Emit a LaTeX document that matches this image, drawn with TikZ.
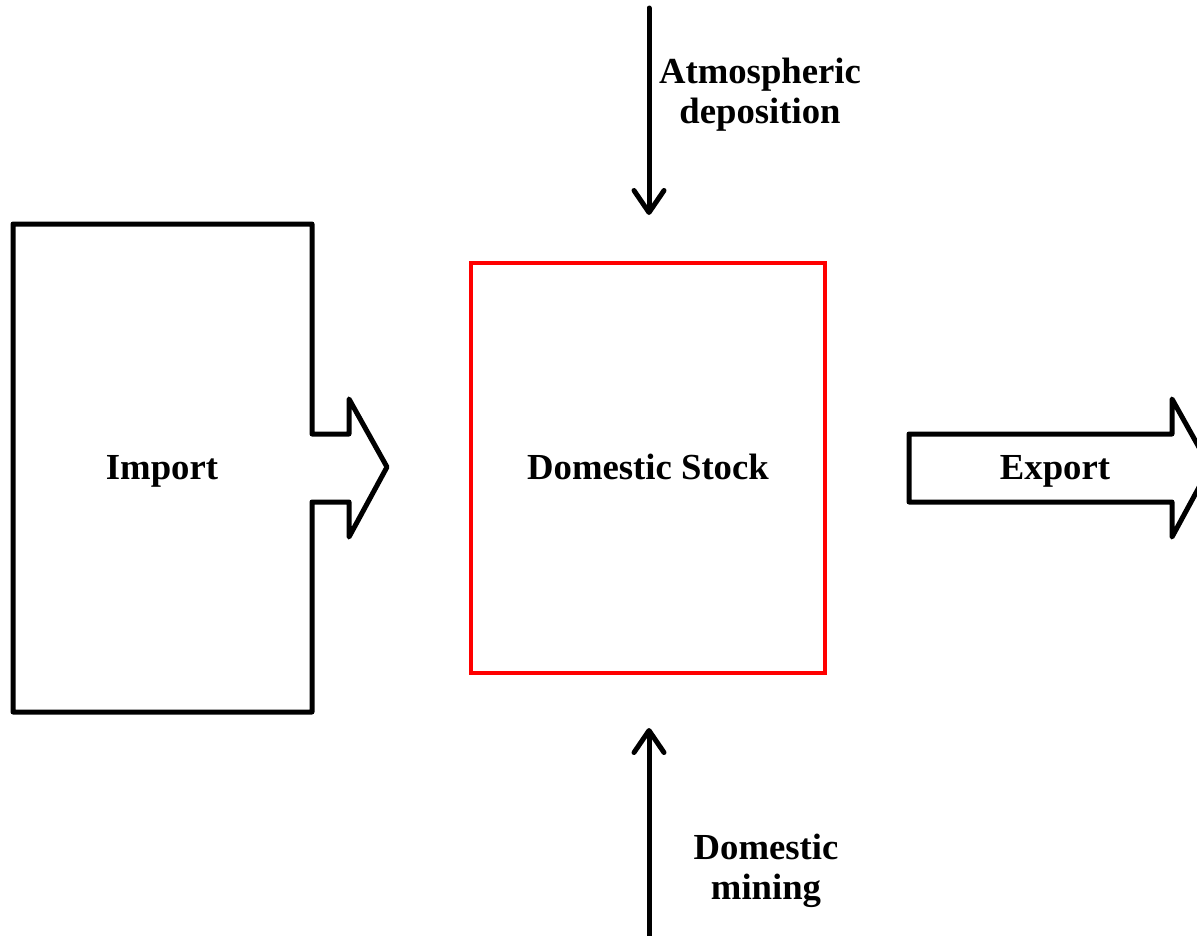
\documentclass[tikz,border=0pt]{standalone}
\usepackage{fontspec}
\setmainfont{Liberation Serif}
\usetikzlibrary{arrows.meta}
\begin{document}
\begin{tikzpicture}[x=1pt,y=-1pt,
  outline/.style={draw=black,line width=5pt,line join=round,line cap=round},
  flow/.style={draw=black,line width=5pt,line cap=round,
    -{Straight Barb[length=22pt,width=30pt,round]}},
  label/.style={font=\fontsize{36.7}{40}\selectfont\bfseries,inner sep=0pt,align=center}]
  \clip (0,0) rectangle (1197,935);
  \useasboundingbox (0,0) rectangle (1197,935);

  % import block with arrow-shaped outlet
  \draw[outline] (13,224) -- (312,224) -- (312,434) -- (349,434) -- (349,399)
    -- (387,467) -- (349,537) -- (349,502) -- (312,502) -- (312,712) -- (13,712) -- cycle;
  \node[label,anchor=base] (import) at (162,479) {Import};

  % domestic stock box
  \node[draw=red,line width=4pt,minimum width=354pt,minimum height=410pt,inner sep=0pt]
    (stockbox) at (648,468) {};
  \node[label,anchor=base] (stock) at (648,479) {Domestic Stock};

  % export arrow
  \draw[outline] (909,434) -- (1172,434) -- (1172,399) -- (1210,467) -- (1172,537)
    -- (1172,502) -- (909,502) -- cycle;
  \node[label,anchor=base] (export) at (1055,479) {Export};

  % vertical flows
  \coordinate (depsrc) at (649,8);
  \coordinate (depend) at (649,215);
  \draw[flow] (depsrc) -- (depend);
  \node[label,anchor=base] (atm1) at (760,83) {Atmospheric};
  \node[label,anchor=base] (atm2) at (760,123) {deposition};

  \coordinate (minsrc) at (649,940);
  \coordinate (minend) at (649,728);
  \draw[flow] (minsrc) -- (minend);
  \node[label,anchor=base] (min1) at (766,859) {Domestic};
  \node[label,anchor=base] (min2) at (766,899) {mining};
\end{tikzpicture}
\end{document}
